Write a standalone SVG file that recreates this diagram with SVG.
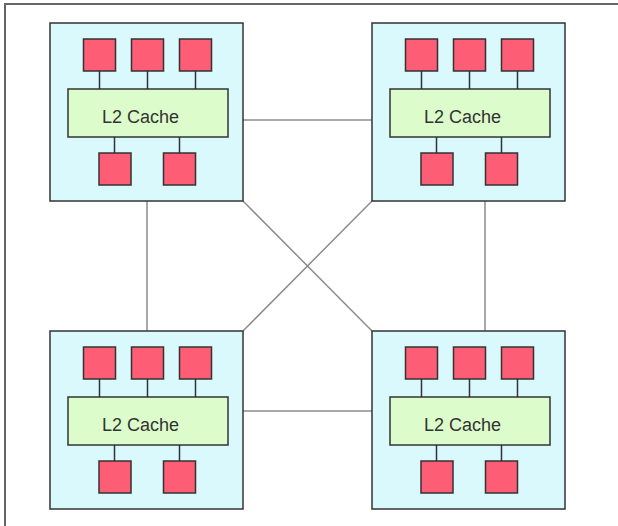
<svg xmlns="http://www.w3.org/2000/svg" width="618" height="526" viewBox="0 0 618 526">
  <style>
    .frame { fill: none; stroke: #666; stroke-width: 2; }
    .link { stroke: #8c8c8c; stroke-width: 1.5; fill: none; }
    .chip { fill: #d9f9fd; stroke: #333; stroke-width: 1.5; }
    .core { fill: #fe5e75; stroke: #333; stroke-width: 1.5; }
    .cache { fill: #dcfdcb; stroke: #333; stroke-width: 1.5; }
    .bus { stroke: #333; stroke-width: 1.5; }
    .label { font-family: "Liberation Sans", Arial, sans-serif; font-size: 18px; fill: #333; }
  </style>
  <defs>
    <g id="chip-body">
      <rect class="chip" x="0" y="0" width="193" height="178"/>
      <line class="bus" x1="49.5" y1="48" x2="49.5" y2="66"/>
      <line class="bus" x1="97.5" y1="48" x2="97.5" y2="66"/>
      <line class="bus" x1="145.5" y1="48" x2="145.5" y2="66"/>
      <line class="bus" x1="64.5" y1="114" x2="64.5" y2="130"/>
      <line class="bus" x1="129.5" y1="114" x2="129.5" y2="130"/>
      <rect class="core" x="33.5" y="16" width="32" height="32"/>
      <rect class="core" x="81.5" y="16" width="32" height="32"/>
      <rect class="core" x="129.5" y="16" width="32" height="32"/>
      <rect class="cache" x="18" y="66" width="160" height="48"/>
      <text class="label" x="52" y="100">L2 Cache</text>
      <rect class="core" x="49" y="130" width="32" height="32"/>
      <rect class="core" x="113.5" y="130" width="32" height="32"/>
    </g>
  </defs>

  <!-- border -->
  <polyline class="frame" points="5,526 5,4 618,4"/>

  <!-- interconnect -->
  <g id="connectors">
    <line class="link" x1="243" y1="120" x2="372" y2="120"/>
    <line class="link" x1="243" y1="411" x2="372" y2="411"/>
    <line class="link" x1="147" y1="201" x2="147" y2="331"/>
    <line class="link" x1="485" y1="201" x2="485" y2="331"/>
    <line class="link" x1="243" y1="201" x2="372" y2="331"/>
    <line class="link" x1="372" y1="201" x2="243" y2="331"/>
  </g>

  <g id="chip-top-left"><use href="#chip-body" x="50" y="23"/></g>
  <g id="chip-top-right"><use href="#chip-body" x="372" y="23"/></g>
  <g id="chip-bottom-left"><use href="#chip-body" x="50" y="331"/></g>
  <g id="chip-bottom-right"><use href="#chip-body" x="372" y="331"/></g>
</svg>
